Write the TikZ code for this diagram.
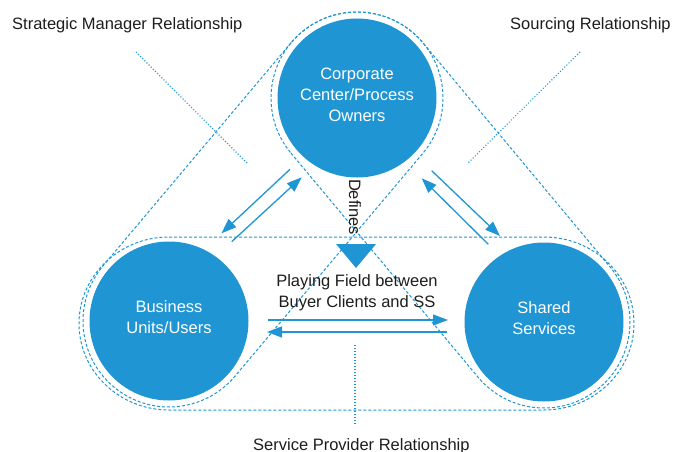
\documentclass[tikz,border=0pt]{standalone}
\usepackage{fontspec}
\setmainfont{Liberation Sans}
\usetikzlibrary{arrows.meta,calc}
\definecolor{cblue}{RGB}{31,150,211}
\definecolor{ctext}{RGB}{30,28,28}
\begin{document}
\begin{tikzpicture}[x=1pt,y=1pt,
  font=\fontsize{16.5}{21}\selectfont,
  bigcircle/.style={circle, fill=cblue, minimum size=159pt, inner sep=0pt},
  circtext/.style={text=white, align=center, inner sep=0pt},
  lbl/.style={text=ctext, inner sep=0pt},
  dashline/.style={cblue, line width=1pt, dash pattern=on 3pt off 2pt},
  dotline/.style={cblue, line width=1.1pt, dash pattern=on 1pt off 2pt},
  conn/.style={cblue, line width=1.3pt, -{Triangle[length=15pt,width=11pt]}}]
\useasboundingbox (0,0) rectangle (673,-452);

% circles
\node[bigcircle] (T) at (357,-98) {};
\node[bigcircle] (L) at (169,-321) {};
\node[bigcircle] (R) at (544,-322) {};

% dashed enclosures
\draw[dashline] ($(T.center)+(139.87:86pt)$) -- ($(L.center)+(139.87:86pt)$)
  arc[start angle=139.87, end angle=319.87, radius=86pt]
  -- ($(T.center)+(319.87:86pt)$)
  arc[start angle=319.87, end angle=499.87, radius=86pt] -- cycle;
\draw[dashline] ($(T.center)+(219.86:86pt)$) -- ($(R.center)+(219.86:86pt)$)
  arc[start angle=219.86, end angle=399.86, radius=86pt]
  -- ($(T.center)+(39.86:86pt)$)
  arc[start angle=39.86, end angle=219.86, radius=86pt] -- cycle;
\draw[dashline] (169,-237) -- (544,-237)
  arc[start angle=90, end angle=-90, x radius=90pt, y radius=86.5pt]
  -- (169,-410)
  arc[start angle=270, end angle=90, x radius=90pt, y radius=86.5pt] -- cycle;

% dotted relationship lines
\draw[dotline] (136,-52) -- (248,-164);
\draw[dotline] (580,-52) -- (467,-164);
\draw[dotline] (355,-345) -- (355,-425);

% circle texts
\node[circtext] (Ttext) at (357,-94.5) {Corporate\\Center/Process\\Owners};
\node[circtext] (Ltext) at (169,-317) {Business\\Units/Users};
\node[circtext] (Rtext) at (544,-318.5) {Shared\\Services};

% labels
\node[lbl, anchor=base west] (sm) at (12,-30) {Strategic Manager Relationship};
\node[lbl, anchor=base west] (sr) at (510,-30) {Sourcing Relationship};
\node[lbl, anchor=base west] (sp) at (253,-450) {Service Provider Relationship};
\node[lbl, align=center] (pf) at (357,-293) {Playing Field between\\Buyer Clients and SS};
\node[lbl, rotate=-90] (def) at (355,-207) {Defines};

% defines triangle
\fill[cblue] (336,-244) -- (376,-244) -- (356,-268) -- cycle;

% arrows
\coordinate (a1s) at (290,-169.3);  \coordinate (a1e) at (221.5,-233.3);
\coordinate (a2s) at (231.7,-241.7); \coordinate (a2e) at (301.7,-177.3);
\coordinate (a3s) at (431.7,-170.7); \coordinate (a3e) at (500,-236);
\coordinate (a4s) at (488.3,-244.3); \coordinate (a4e) at (421.7,-178.3);
\coordinate (a5s) at (268,-320);     \coordinate (a5e) at (448,-320);
\coordinate (a6s) at (447,-332);     \coordinate (a6e) at (267,-332);
\draw[conn] (a1s) -- (a1e);
\draw[conn] (a2s) -- (a2e);
\draw[conn] (a3s) -- (a3e);
\draw[conn] (a4s) -- (a4e);
\draw[conn] (a5s) -- (a5e);
\draw[conn] (a6s) -- (a6e);
\end{tikzpicture}
\end{document}
